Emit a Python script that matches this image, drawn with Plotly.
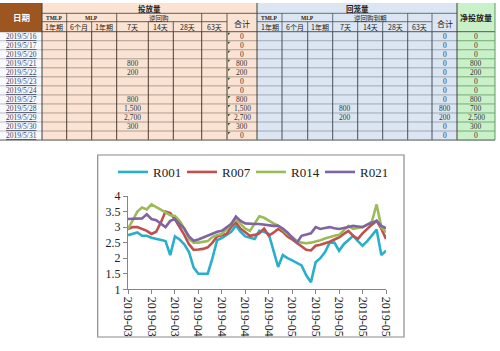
import plotly.graph_objects as go

# ---------------- chart data (repo rates, %) ----------------
r001 = [2.74, 2.78, 2.83, 2.72, 2.72, 2.66, 2.62, 2.60, 2.55, 2.10,
        2.70, 2.60, 2.45, 2.20, 1.70, 1.50, 1.50, 1.50, 2.00, 2.58,
        2.65, 2.75, 2.85, 3.05, 2.85, 2.70, 2.65, 2.62, 2.88, 2.85,
        2.78, 2.28, 1.72, 2.10, 2.00, 1.93, 1.85, 1.77, 1.45, 1.23,
        1.87, 2.00, 2.20, 2.50, 2.50, 2.24, 2.45, 2.60, 2.72, 2.55,
        2.40, 2.55, 2.75, 2.92, 2.10, 2.24]
r007 = [2.94, 3.00, 3.00, 2.95, 2.88, 2.78, 2.85, 3.15, 3.50, 3.45,
        3.25, 3.00, 2.75, 2.45, 2.27, 2.28, 2.30, 2.35, 2.50, 2.70,
        2.75, 2.78, 3.00, 3.15, 2.95, 2.83, 2.72, 2.75, 2.80, 2.95,
        2.72, 2.82, 2.94, 2.85, 2.70, 2.60, 2.48, 2.38, 2.27, 2.25,
        2.40, 2.43, 2.47, 2.53, 2.60, 2.67, 2.78, 2.88, 2.72, 2.62,
        2.80, 2.95, 3.08, 3.20, 2.95, 2.62]
r014 = [2.94, 3.20, 3.50, 3.63, 3.57, 3.73, 3.65, 3.57, 3.47, 3.38,
        3.36, 3.20, 2.95, 2.62, 2.50, 2.50, 2.52, 2.55, 2.68, 2.75,
        2.78, 2.95, 3.10, 3.25, 3.10, 2.95, 2.88, 3.10, 3.35, 3.30,
        3.20, 3.12, 3.05, 2.90, 2.78, 2.68, 2.56, 2.50, 2.48, 2.50,
        2.53, 2.58, 2.63, 2.68, 2.72, 2.75, 2.90, 3.04, 2.94, 2.96,
        3.00, 3.08, 3.18, 3.73, 3.00, 2.83]
r021 = [3.26, 3.26, 3.26, 3.28, 3.41, 3.26, 3.22, 3.10, 3.00, 3.20,
        3.26, 3.10, 2.95, 2.70, 2.56, 2.60, 2.66, 2.72, 2.80, 2.85,
        2.88, 2.98, 3.10, 3.34, 3.20, 3.12, 3.10, 3.10, 3.10, 3.08,
        3.04, 3.04, 3.04, 2.95, 2.83, 2.65, 2.50, 2.72, 2.76, 2.80,
        3.00, 2.94, 2.97, 3.00, 2.96, 2.94, 2.97, 3.00, 3.04, 3.02,
        3.00, 3.08, 3.15, 3.20, 3.04, 2.96]
series_names = ["R001", "R007", "R014", "R021"]
series_colors = ["#2AAFCB", "#C0504D", "#9BBB59", "#8064A2"]
x_tick_labels = ["2019-03", "2019-03", "2019-03", "2019-04", "2019-04", "2019-04",
                 "2019-04", "2019-05", "2019-05", "2019-05", "2019-05", "2019-05"]
tick_step = 5

# ---------------- table data ----------------
dates = ["2019/5/16", "2019/5/17", "2019/5/20", "2019/5/21", "2019/5/22", "2019/5/23",
         "2019/5/24", "2019/5/27", "2019/5/28", "2019/5/29", "2019/5/30", "2019/5/31"]
inject_7d = [None, None, None, 800, 200, None, None, 800, 1500, 2700, 300, None]
inject_total = [0, 0, 0, 800, 200, 0, 0, 800, 1500, 2700, 300, 0]
mature_7d = [None, None, None, None, None, None, None, None, 800, 200, None, None]
mature_total = [0, 0, 0, 0, 0, 0, 0, 0, 800, 200, 0, 0]
net_inject = [0, 0, 0, 800, 200, 0, 0, 800, 700, 2500, 300, 0]
sub_headers = ["1年期", "6个月", "1年期", "7天", "14天", "28天", "63天"]

W, H = 500, 351
def X(px): return px / W
def Y(py): return 1 - py / H

CJK = "Noto Sans CJK SC"
SERIF = "Liberation Serif"

shapes, annotations = [], []

def rect(x0, y0, x1, y1, fill, line_color=None, lw=0, layer="below"):
    shapes.append(dict(type="rect", xref="paper", yref="paper", x0=X(x0), x1=X(x1),
                       y0=Y(y1), y1=Y(y0), fillcolor=fill, layer=layer,
                       line=dict(width=lw, color=line_color or fill)))

def hline(x0, x1, y, color, w=1):
    shapes.append(dict(type="line", xref="paper", yref="paper", x0=X(x0), x1=X(x1),
                       y0=Y(y), y1=Y(y), line=dict(color=color, width=w)))

def vline(x, y0, y1, color, w=1):
    shapes.append(dict(type="line", xref="paper", yref="paper", x0=X(x), x1=X(x),
                       y0=Y(y0), y1=Y(y1), line=dict(color=color, width=w)))

def text(cx, cy, s, size, color="#222", family=CJK):
    annotations.append(dict(xref="paper", yref="paper", x=X(cx), y=Y(cy), text=s,
                            showarrow=False, xanchor="center", yanchor="middle",
                            borderpad=0, font=dict(size=size, color=color, family=family)))

def fmt(v):
    return "" if v is None else f"{v:,}"

# table geometry (pixels)
E = [0, 42, 66.7, 91.7, 116.7, 148.3, 173.3, 201.7, 227, 257,
     282, 307.7, 332.7, 357.7, 382.7, 407.7, 432, 457, 495]
top, r1, r2, r3 = 3, 13.3, 21.7, 31.7
rh = 9.03
bottom = r3 + rh * len(dates)

# fills
rect(E[0], top, E[1], r3, "#9E5620")
rect(E[0], r3, E[1], bottom, "#F8F9FC")
rect(E[1], top, E[9], bottom, "#FBE3D3")
rect(E[9], top, E[17], bottom, "#DCE6F2")
rect(E[17], top, E[18], bottom, "#C9F0C9")

inj_line, mat_line, net_line = "#4A3A2E", "#44505C", "#5E9A5E"

# data row horizontal lines
for k in range(1, len(dates) + 1):
    y = r3 + k * rh
    hline(E[0], E[1], y, "#A9AFBA", 0.8)
    hline(E[1], E[9], y, "#9A8C82", 0.8)
    hline(E[9], E[17], y, "#8E99A5", 0.8)
    hline(E[17], E[18], y, net_line, 0.8)
hline(E[0], E[18], r3, "#555555", 1)

# header structure per section
titles = ["投放量", "回笼量"]
groups = [["TMLP", "MLP", "逆回购"], ["TMLP", "MLP", "逆回购到期"]]
for s, b in enumerate([1, 9]):
    lc = inj_line if s == 0 else mat_line
    hline(E[b], E[b + 8], r1, lc, 0.8)
    hline(E[b], E[b + 7], r2, lc, 0.8)
    for j in [b + 1, b + 3, b + 6]:
        vline(E[j], r1, r2, lc, 0.8)
    vline(E[b + 7], r1, r3, lc, 0.8)
    for j in range(b + 1, b + 7):
        vline(E[j], r2, r3, lc, 0.8)
    for j in range(b + 1, b + 8):
        vline(E[j], r3, bottom, lc, 1)
    text((E[b] + E[b + 8]) / 2, (top + r1) / 2 + 0.3, "<b>" + titles[s] + "</b>", 7.5)
    text((E[b] + E[b + 1]) / 2, (r1 + r2) / 2, "<b>" + groups[s][0] + "</b>", 5.5, family=SERIF)
    text((E[b + 1] + E[b + 3]) / 2, (r1 + r2) / 2, "<b>" + groups[s][1] + "</b>", 5.5, family=SERIF)
    text((E[b + 3] + E[b + 6]) / 2, (r1 + r2) / 2, groups[s][2], 6.5)
    for j, lab in enumerate(sub_headers):
        text((E[b + j] + E[b + j + 1]) / 2, (r2 + r3) / 2 + 0.3, lab, 7)
    text((E[b + 7] + E[b + 8]) / 2, (r1 + r3) / 2 + 0.5, "合计", 8)

for xe in [E[1], E[9], E[17]]:
    vline(xe, top, bottom, "#3E3E3E", 1)
vline(E[18], top, bottom, net_line, 1)
hline(E[0], E[18], bottom, "#777777", 1)

text((E[0] + E[1]) / 2, (top + r3) / 2, "<b>日期</b>", 8.5, color="#FFFFFF")
text((E[17] + E[18]) / 2, (top + r3) / 2, "<b>净投放量</b>", 8)

# data cells
for i, d in enumerate(dates):
    cy = r3 + (i + 0.5) * rh + 0.3
    text((E[0] + E[1]) / 2, cy, "<u>" + d + "</u>", 7.5, color="#3A3F5C", family=SERIF)
    text((E[4] + E[5]) / 2, cy, fmt(inject_7d[i]), 7.5, color="#333", family=SERIF)
    text((E[8] + E[9]) / 2, cy, fmt(inject_total[i]), 7.5, color="#333", family=SERIF)
    text((E[12] + E[13]) / 2, cy, fmt(mature_7d[i]), 7.5, color="#333", family=SERIF)
    text((E[16] + E[17]) / 2, cy, fmt(mature_total[i]), 7.5, color="#333", family=SERIF)
    text((E[17] + E[18]) / 2, cy, fmt(net_inject[i]), 7.5, color="#333", family=SERIF)
    # small error-indicator marks in the injection total column
    y0 = r3 + i * rh + 1
    x0 = E[8] + 1
    shapes.append(dict(type="path", xref="paper", yref="paper",
                       path=f"M {X(x0)},{Y(y0)} L {X(x0 + 2.5)},{Y(y0)} L {X(x0)},{Y(y0 + 2.5)} Z",
                       fillcolor="#2F5F2F", line=dict(width=0)))

# chart frame
rect(97.7, 155, 404, 337, "rgba(0,0,0,0)", "#8A8A8A", 1.2, layer="above")

# ---------------- chart ----------------
fig = go.Figure()
xs = list(range(len(r001)))
for name, vals, col in zip(series_names, [r001, r007, r014, r021], series_colors):
    fig.add_trace(go.Scatter(x=xs, y=vals, mode="lines", name=name,
                             line=dict(color=col, width=2.6)))

tickvals = list(range(0, len(xs), tick_step))

fig.update_layout(
    width=W, height=H, margin=dict(l=0, r=0, t=0, b=0),
    paper_bgcolor="white", plot_bgcolor="white",
    shapes=shapes, annotations=annotations,
    showlegend=True,
    legend=dict(orientation="h", x=0.502, xanchor="center", y=Y(172), yanchor="middle",
                font=dict(family=SERIF, size=13, color="#222"),
                entrywidth=24, entrywidthmode="pixels", bgcolor="rgba(0,0,0,0)",
                itemwidth=30, tracegroupgap=0),
    xaxis=dict(domain=[X(128), X(386)], range=[0, len(xs) - 1], tickvals=tickvals,
               ticktext=x_tick_labels, tickangle=90, ticks="outside", ticklen=4,
               tickcolor="#868686", showline=True, linecolor="#868686", linewidth=1,
               showgrid=False, zeroline=False, automargin=False,
               tickfont=dict(family=SERIF, size=12, color="#222")),
    yaxis=dict(domain=[Y(289.3), Y(196)], range=[1, 4], dtick=0.5, ticks="outside",
               ticklen=4, tickcolor="#868686", showline=True, linecolor="#868686",
               linewidth=1, showgrid=False, zeroline=False, automargin=False,
               tickfont=dict(family=SERIF, size=12, color="#222")),
)

fig.write_html("out.html")
